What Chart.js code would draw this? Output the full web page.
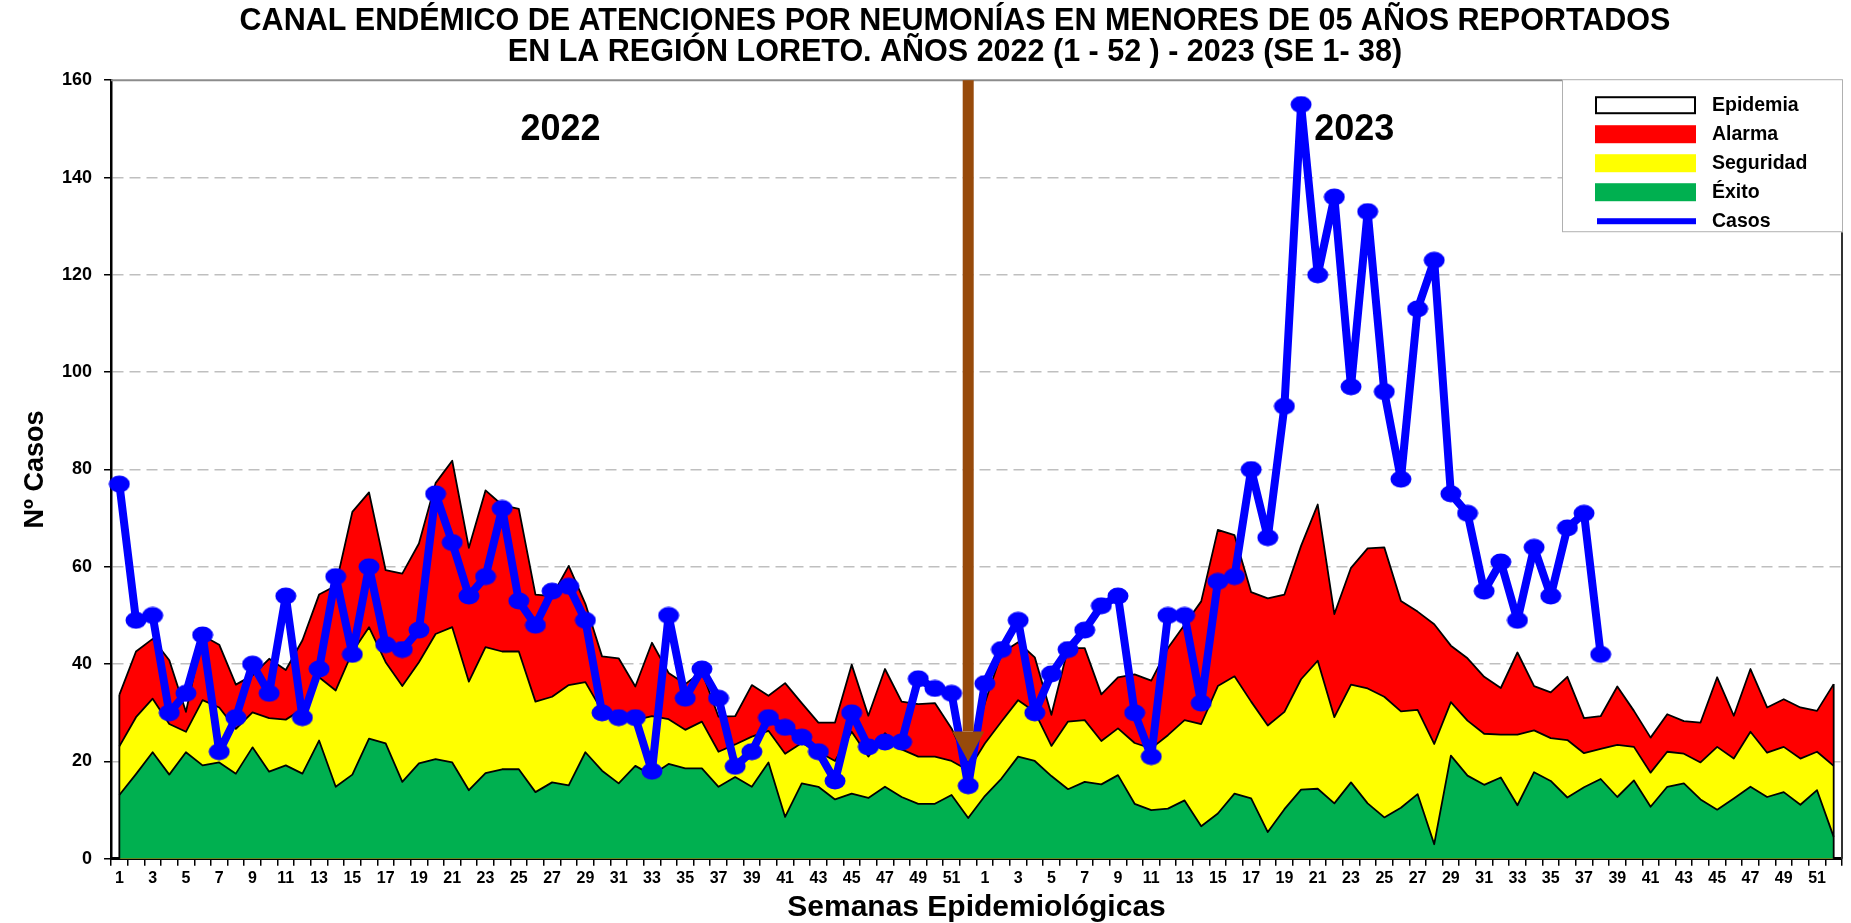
<!DOCTYPE html>
<html>
<head>
<meta charset="utf-8">
<title>Canal endémico neumonías Loreto</title>
<script src="https://cdn.jsdelivr.net/npm/chart.js@4.4.0/dist/chart.umd.min.js"></script>
<style>
  html, body { margin: 0; padding: 0; background: #fff; }
  #wrap { width: 1851px; height: 923px; }
</style>
</head>
<body>
<div id="wrap"><canvas id="canal" width="1851" height="923"></canvas></div>
<script>
// semanas epidemiológicas (se repiten para 2022 y 2023)
const semanas = ['1','2','3','4','5','6','7','8','9','10','11','12','13','14','15','16','17','18','19','20',
  '21','22','23','24','25','26','27','28','29','30','31','32','33','34','35','36','37','38','39','40',
  '41','42','43','44','45','46','47','48','49','50','51','52'];

// casos reportados
const casos2022 = [77, 49, 50, 30, 34, 46, 22, 29, 40, 34, 54, 29, 39, 58, 42, 60, 44, 43, 47, 75,
  65, 54, 58, 72, 53, 48, 55, 56, 49, 30, 29, 29, 18, 50, 33, 39, 33, 19, 22, 29,
  27, 25, 22, 16, 30, 23, 24, 24, 37, 35, 34, 15];
const casos2023 = [36, 43, 49, 30, 38, 43, 47, 52, 54, 30, 21, 50, 50, 32, 57, 58, 80, 66, 93, 155,
  120, 136, 97, 133, 96, 78, 113, 123, 75, 71, 55, 61, 49, 64, 54, 68, 71, 42];

// zonas del canal endémico
const exito2022 = [13.1, 17.4, 21.9, 17.3, 21.9, 19.2, 19.8, 17.5, 22.9, 17.9, 19.2, 17.5, 24.3, 14.8, 17.3, 24.7, 23.7, 15.8, 19.6, 20.5,
  19.8, 14.1, 17.6, 18.4, 18.4, 13.7, 15.7, 15.1, 21.9, 18.1, 15.5, 19.1, 17.2, 19.5, 18.6, 18.6, 14.8, 16.8, 14.8, 19.8,
  8.6, 15.5, 14.8, 12.2, 13.4, 12.5, 14.8, 12.7, 11.3, 11.3, 13.1, 8.4];
const exito2023 = [12.9, 16.5, 21, 20.1, 17, 14.3, 15.8, 15.3, 17.2, 11.3, 10, 10.3, 12, 6.7, 9.3, 13.4, 12.4, 5.5, 10.2, 14.2,
  14.4, 11.4, 15.7, 11.4, 8.5, 10.5, 13.3, 3, 21.2, 17.1, 15.2, 16.7, 11, 17.8, 16, 12.6, 14.7, 16.4, 12.7, 16.1,
  10.7, 14.8, 15.5, 12.2, 10.1, 12.4, 14.8, 12.7, 13.7, 11.1, 14.1, 4.5];

const seguridad2022 = [23.1, 29.1, 32.9, 27.7, 26.1, 32.6, 31.1, 26.7, 30.1, 28.9, 28.6, 30.8, 37.3, 34.6, 42.5, 47.6, 40.4, 35.5, 40.4, 46.2,
  47.6, 36.4, 43.5, 42.6, 42.6, 32.3, 33.3, 35.7, 36.3, 30.4, 29.4, 28.5, 29.3, 28.7, 26.5, 28.2, 22, 23.5, 25.1, 26.3,
  21.6, 23.8, 22, 20.1, 26.1, 21, 25.8, 22.5, 21, 21, 20.1, 18.2];
const seguridad2023 = [23.7, 28.2, 32.6, 30.2, 23.2, 28.2, 28.5, 24.2, 26.8, 23.8, 22.7, 25.4, 28.5, 27.7, 35.5, 37.5, 32.3, 27.4, 30.2, 36.9,
  40.7, 29.1, 35.8, 35, 33.3, 30.3, 30.6, 23.6, 32.2, 28.4, 25.7, 25.5, 25.5, 26.4, 24.8, 24.4, 21.7, 22.6, 23.4, 23,
  17.7, 22, 21.6, 19.8, 23, 20.6, 26.1, 21.8, 23, 20.6, 22, 19.1];

const alarma2022 = [33.7, 42.6, 45.2, 40.8, 30.2, 45.9, 44, 35.8, 37.7, 41.1, 38.8, 44.9, 54.3, 56.1, 71.3, 75.3, 59.3, 58.6, 64.8, 77.2,
  81.8, 63.9, 75.7, 72.7, 71.9, 54.3, 54, 60.2, 52.4, 41.6, 41.2, 35.4, 44.4, 38.2, 35.9, 38.5, 29.2, 29.3, 35.7, 33.5,
  36.1, 32, 28, 28, 39.9, 29.4, 39, 32.3, 31.8, 32, 26.8, 19.5];
const alarma2023 = [32, 42.3, 44.5, 41.4, 29.6, 43.3, 43.3, 33.8, 37.3, 37.9, 36.6, 43.3, 48.1, 52.9, 67.6, 66.5, 54.8, 53.5, 54.3, 64.3,
  72.8, 50.3, 59.8, 63.8, 64, 53, 50.8, 48.2, 43.8, 41.2, 37.4, 35.1, 42.4, 35.5, 34.2, 37.4, 28.9, 29.3, 35.4, 30.4,
  24.9, 29.7, 28.3, 28, 37.3, 29.4, 39, 31.1, 32.8, 31.1, 30.4, 35.9];

// textos de años y flecha de cambio de año
const anios = ['2022', '2023'];
const aniosPos = [26.5, 74.2];
const aniosAltura = 149.8;
const flechaSemana = 51;
const flechaDesde = 160;
const flechaHasta = 20;

const etiquetas = semanas.concat(semanas);
const casos = casos2022.concat(casos2023);
const exito = exito2022.concat(exito2023);
const seguridad = seguridad2022.concat(seguridad2023);
const alarma = alarma2022.concat(alarma2023);

const FONT = '"Liberation Sans", Arial, sans-serif';
Chart.defaults.font.family = FONT;
Chart.defaults.color = '#000';

// punto ovalado para la serie de casos
const punto = document.createElement('canvas');
punto.width = 22; punto.height = 18;
(function () {
  const c = punto.getContext('2d');
  c.fillStyle = '#0000FF';
  c.beginPath();
  c.ellipse(11, 9, 10.5, 8.5, 0, 0, Math.PI * 2);
  c.fill();
})();

const leyenda = [
  { text: 'Epidemia', fill: '#FFFFFF', stroke: '#000' },
  { text: 'Alarma', fill: '#FF0000' },
  { text: 'Seguridad', fill: '#FFFF00' },
  { text: 'Éxito', fill: '#00B050' },
  { text: 'Casos', line: '#0000FF' }
];

const extras = {
  id: 'extras',
  afterLayout(chart) {
    // el título original está algo corrido a la derecha
    if (chart.titleBlock) chart.titleBlock.left += 46;
  },
  afterDatasetsDraw(chart) {
    const { ctx, chartArea: a, scales: { x, y } } = chart;
    ctx.save();

    // bordes verticales de las zonas
    ctx.strokeStyle = '#000';
    ctx.lineWidth = 1.8;
    [0, alarma.length - 1].forEach(i => {
      ctx.beginPath();
      ctx.moveTo(x.getPixelForValue(i), y.getPixelForValue(0));
      ctx.lineTo(x.getPixelForValue(i), y.getPixelForValue(alarma[i]));
      ctx.stroke();
    });

    // marco superior y derecho
    ctx.lineWidth = 2;
    ctx.strokeStyle = '#8C8C8C';
    ctx.beginPath(); ctx.moveTo(a.left, a.top); ctx.lineTo(a.right, a.top); ctx.stroke();
    ctx.strokeStyle = '#333';
    ctx.beginPath(); ctx.moveTo(a.right, a.top); ctx.lineTo(a.right, a.bottom); ctx.stroke();

    // años
    ctx.fillStyle = '#000';
    ctx.font = 'bold 36px ' + FONT;
    ctx.textAlign = 'center';
    ctx.textBaseline = 'middle';
    anios.forEach((t, i) => ctx.fillText(t, x.getPixelForValue(aniosPos[i]), y.getPixelForValue(aniosAltura)));

    // flecha
    const fx = x.getPixelForValue(flechaSemana);
    const y0 = y.getPixelForValue(flechaDesde);
    const y1 = y.getPixelForValue(flechaHasta);
    ctx.fillStyle = '#974A0B';
    ctx.fillRect(fx - 5.5, y0, 11, y1 - y0 - 30);
    ctx.beginPath();
    ctx.moveTo(fx - 16, y1 - 30);
    ctx.lineTo(fx + 16, y1 - 30);
    ctx.lineTo(fx, y1);
    ctx.closePath();
    ctx.fill();

    // leyenda
    const bx = a.right - 280, by = a.top - 1, bw = 281, bh = 153;
    ctx.fillStyle = '#fff';
    ctx.fillRect(bx, by, bw, bh);
    ctx.strokeStyle = '#B0B0B0';
    ctx.lineWidth = 1;
    ctx.strokeRect(bx + 0.5, by + 0.5, bw - 1, bh - 1);
    ctx.font = 'bold 19.5px ' + FONT;
    ctx.textAlign = 'left';
    leyenda.forEach((it, k) => {
      const cy = by + 26 + k * 29;
      if (it.line) {
        ctx.fillStyle = it.line;
        ctx.fillRect(bx + 35, cy - 3, 99, 6);
      } else {
        ctx.fillStyle = it.fill;
        ctx.fillRect(bx + 33, cy - 9, 101, 18);
        if (it.stroke) {
          ctx.strokeStyle = it.stroke;
          ctx.lineWidth = 2;
          ctx.strokeRect(bx + 34, cy - 8, 99, 16);
        }
      }
      ctx.fillStyle = '#000';
      ctx.fillText(it.text, bx + 150, cy);
    });
    ctx.restore();
  }
};

const zona = (label, data, color) => ({
  label, data,
  borderColor: '#000', borderWidth: 1.8, borderJoinStyle: 'round',
  backgroundColor: color, fill: 'origin', pointRadius: 0, tension: 0
});

new Chart(document.getElementById('canal'), {
  type: 'line',
  data: {
    labels: etiquetas,
    datasets: [
      {
        label: 'Casos', data: casos,
        borderColor: '#0000FF', backgroundColor: '#0000FF', borderWidth: 8,
        borderJoinStyle: 'round', borderCapStyle: 'round',
        pointStyle: punto, pointRadius: 9, pointHoverRadius: 9,
        fill: false, tension: 0
      },
      zona('Éxito', exito, '#00B050'),
      zona('Seguridad', seguridad, '#FFFF00'),
      zona('Alarma', alarma, '#FF0000')
    ]
  },
  options: {
    responsive: false,
    animation: false,
    layout: { autoPadding: false, padding: { left: 22, right: 9, top: 0, bottom: 0 } },
    plugins: {
      legend: { display: false },
      tooltip: { enabled: false },
      title: {
        display: true,
        text: ['CANAL ENDÉMICO DE ATENCIONES POR NEUMONÍAS EN MENORES DE 05 AÑOS REPORTADOS',
               'EN LA REGIÓN LORETO. AÑOS 2022 (1 - 52 ) - 2023 (SE 1- 38)'],
        color: '#000',
        font: { size: 30.5, weight: 'bold', lineHeight: 1.02 },
        padding: { top: 6, bottom: 12 }
      }
    },
    scales: {
      x: {
        offset: true,
        grid: { offset: true, drawOnChartArea: false, drawTicks: true, tickLength: 7, color: '#000', lineWidth: 1.5 },
        border: { display: true, color: '#000', width: 3 },
        ticks: {
          autoSkip: false, maxRotation: 0, minRotation: 0, padding: 3,
          font: { size: 16, weight: 'bold' },
          callback: function (v, i) { return i % 2 === 0 ? this.getLabelForValue(v) : ''; }
        },
        title: {
          display: true, text: 'Semanas Epidemiológicas',
          font: { size: 30, weight: 'bold', lineHeight: 1 }, padding: { top: 2, bottom: 0 }
        }
      },
      y: {
        min: 0, max: 160,
        ticks: { stepSize: 20, padding: 12, font: { size: 18, weight: 'bold' } },
        grid: {
          color: c => (c.tick.value === 0 || c.tick.value === 160) ? 'rgba(0,0,0,0)' : '#BFBFBF',
          lineWidth: 1.5, tickLength: 7, tickColor: '#000', tickBorderDash: [], drawTicks: true
        },
        border: { display: true, color: '#000', width: 2.5, dash: [11, 6] },
        title: {
          display: true, text: 'Nº Casos',
          font: { size: 27, weight: 'bold', lineHeight: 1 }, padding: 0.5
        }
      }
    }
  },
  plugins: [extras]
});
</script>
</body>
</html>
